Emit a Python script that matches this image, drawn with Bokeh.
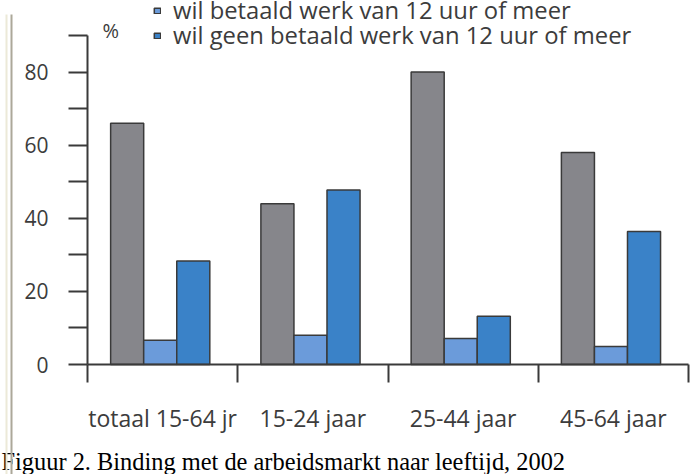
from bokeh.plotting import figure
from bokeh.models import (Range1d, LinearAxis, FixedTicker, Legend, LegendItem,
                          Label, Span)
from bokeh.embed import file_html
from bokeh.resources import INLINE

# ---- data ----
categories = ["totaal 15-64 jr", "15-24 jaar", "25-44 jaar", "45-64 jaar"]
werkt = [66.0, 44.0, 80.0, 58.0]              # grey series (legend entry cut off)
wil_betaald = [6.6, 8.0, 7.1, 4.9]            # light blue
wil_geen = [28.3, 47.7, 13.2, 36.4]           # blue
series_labels = ["wil betaald werk van 12 uur of meer",
                 "wil geen betaald werk van 12 uur of meer"]
y_ticks = [0, 10, 20, 30, 40, 50, 60, 70, 80, 90]
y_tick_labels = ["0", "", "20", "", "40", "", "60", "", "80", ""]
caption = "Figuur 2. Binding met de arbeidsmarkt naar leeftijd, 2002"

# ---- layout ----
W, H = 693, 474
px_cat = 150.25      # pixels per category
px_y = 3.656         # pixels per percent
x0_px, y0_px = 87, 364
clip_px = 14         # the scanned page is cut off above this row

GREY, LBLUE, BLUE = "#86868b", "#6b9bda", "#3a82c8"
EDGE = "#3a3a3a"
TXT = "#3c3c3c"
FONT = "Open Sans"

x_lo, x_hi = -x0_px / px_cat, (W - x0_px) / px_cat
y_lo, y_hi = -(H - y0_px) / px_y, y0_px / px_y

p = figure(width=W, height=H, output_backend="svg", toolbar_location=None,
           x_axis_type=None, y_axis_type=None,
           x_range=Range1d(x_lo, x_hi), y_range=Range1d(y_lo, y_hi),
           min_border=0, min_border_left=0, min_border_right=0,
           min_border_top=0, min_border_bottom=0)
p.outline_line_color = None
p.background_fill_color = "white"
p.border_fill_color = "white"

center = 0.484
bw = 0.22
xs = list(range(len(categories)))
r_grey = p.vbar(x=[i + center - bw for i in xs], top=werkt, width=bw, bottom=0,
                fill_color=GREY, line_color=EDGE, line_width=1.5)
r_lb = p.vbar(x=[i + center for i in xs], top=wil_betaald, width=bw, bottom=0,
              fill_color=LBLUE, line_color=EDGE, line_width=1.5)
r_b = p.vbar(x=[i + center + bw for i in xs], top=wil_geen, width=bw, bottom=0,
             fill_color=BLUE, line_color=EDGE, line_width=1.5)

# y axis
yaxis = LinearAxis(fixed_location=0, bounds=(0, 90),
                   ticker=FixedTicker(ticks=y_ticks),
                   major_label_overrides={t: l for t, l in zip(y_ticks, y_tick_labels)},
                   axis_line_color=EDGE, axis_line_width=2,
                   major_tick_line_color=EDGE, major_tick_line_width=2,
                   major_tick_out=19, major_tick_in=0, minor_tick_out=0, minor_tick_in=0,
                   major_label_standoff=20,
                   major_label_text_font=FONT, major_label_text_font_size="21px",
                   major_label_text_color=TXT)
p.add_layout(yaxis, "left")

# x axis: line + boundary ticks
bounds_ticks = list(range(len(categories) + 1))
xaxis = LinearAxis(fixed_location=0, bounds=(0, len(categories)),
                   ticker=FixedTicker(ticks=bounds_ticks),
                   major_label_overrides={t: "" for t in bounds_ticks},
                   axis_line_color=EDGE, axis_line_width=2,
                   major_tick_line_color=EDGE, major_tick_line_width=2,
                   major_tick_out=18, major_tick_in=0, minor_tick_out=0, minor_tick_in=0,
                   major_label_text_font_size="1px")
p.add_layout(xaxis, "below")

# x axis: category labels centred in each category
centres = [i + 0.5 for i in xs]
xlab = LinearAxis(fixed_location=0,
                  ticker=FixedTicker(ticks=centres),
                  major_label_overrides={c: n for c, n in zip(centres, categories)},
                  axis_line_color=None, major_tick_line_color=None,
                  major_tick_out=0, major_tick_in=0, minor_tick_out=0, minor_tick_in=0,
                  major_label_standoff=37,
                  major_label_text_font=FONT, major_label_text_font_size="23px",
                  major_label_text_color=TXT)
p.add_layout(xlab, "below")

# legend (the first entry is cut off at the top of the picture)
legend_style = dict(orientation="vertical", glyph_width=8, glyph_height=7,
                    label_standoff=12, label_height=25, spacing=0, padding=0,
                    margin=0, border_line_color=None, background_fill_alpha=0,
                    label_text_font=FONT, label_text_font_size="23.8px",
                    label_text_color=TXT)
legend_a = Legend(items=[LegendItem(label=series_labels[0], renderers=[r_lb])],
                  location=(153, 448), **legend_style)
legend_b = Legend(items=[LegendItem(label=series_labels[1], renderers=[r_b])],
                  location=(153, 423), **legend_style)
p.add_layout(legend_a, "center")
p.add_layout(legend_b, "center")

p.add_layout(Label(x=102, y=H - 30, x_units="screen", y_units="screen", text="%",
                   text_font=FONT, text_font_size="20px", text_color=TXT,
                   text_baseline="alphabetic"))
p.add_layout(Label(x=1, y=H - 461, x_units="screen", y_units="screen", text=caption,
                   text_font="Liberation Serif", text_font_size="24.4px",
                   text_color="black", text_baseline="alphabetic"))

# document frame lines at the left edge
p.add_layout(Span(location=6, dimension="height", location_units="screen",
                  line_color="#ece9d8", line_width=2))
p.add_layout(Span(location=11, dimension="height", location_units="screen",
                  line_color="#aca899", line_width=2))

# white band: the scanned page is cut off at the top
p.quad(left=[x_lo - 1], right=[x_hi + 1], bottom=[(y0_px - clip_px) / px_y],
       top=[y_hi + 5], fill_color="white", fill_alpha=1.0, line_color=None,
       level="overlay")

open("out.html", "w").write(file_html(p, INLINE))
